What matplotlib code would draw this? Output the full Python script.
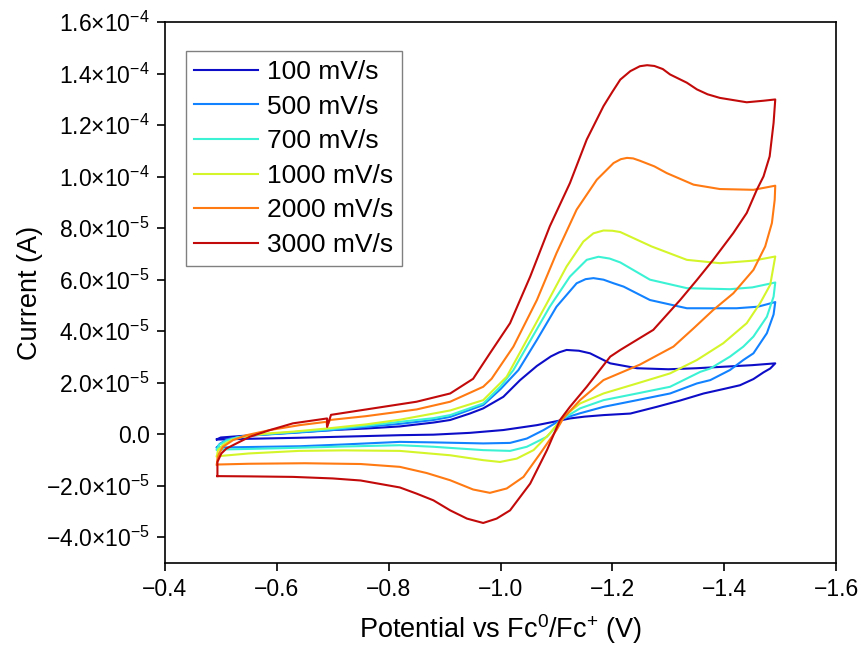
import numpy as np
import matplotlib
matplotlib.use("Agg")
import matplotlib.pyplot as plt

plt.rcParams['font.family'] = ['Liberation Sans', 'DejaVu Sans']
plt.rcParams['mathtext.fontset'] = 'custom'
plt.rcParams['mathtext.rm'] = 'Liberation Sans'
plt.rcParams['mathtext.it'] = 'Liberation Sans:italic'

# scan rates
labels = ['100 mV/s', '500 mV/s', '700 mV/s', '1000 mV/s', '2000 mV/s', '3000 mV/s']
colors = ['#0d0dc8', '#1282ff', '#3cf2d4', '#d4f52a', '#ff7a12', '#c20a0a']

# potentials in V, currents in 1e-5 A; upper branch left->right then return branch right->left
v100 = [-0.493, -0.50, -0.55, -0.60, -0.69, -0.76, -0.82, -0.88, -0.91, -0.945, -0.969, -1.005, -1.035, -1.065,
        -1.09, -1.105, -1.118, -1.14, -1.160, -1.196, -1.244, -1.30, -1.35, -1.40, -1.45, -1.491,
        -1.482, -1.470, -1.452, -1.428, -1.40, -1.363, -1.32, -1.279, -1.232, -1.184, -1.150, -1.124, -1.095,
        -1.065, -1.005, -0.945, -0.88, -0.82, -0.75, -0.641, -0.55, -0.493]
i100 = [-0.20, -0.13, -0.05, 0.02, 0.15, 0.22, 0.30, 0.45, 0.55, 0.80, 1.0, 1.45, 2.10, 2.65,
        3.02, 3.18, 3.27, 3.24, 3.14, 2.75, 2.56, 2.52, 2.56, 2.62, 2.68, 2.75,
        2.55, 2.40, 2.14, 1.90, 1.76, 1.58, 1.30, 1.06, 0.80, 0.74, 0.68, 0.61, 0.48,
        0.35, 0.16, 0.05, -0.02, -0.04, -0.08, -0.14, -0.18, -0.21]

v500 = [-0.493, -0.498, -0.51, -0.53, -0.57, -0.63, -0.69, -0.76, -0.82, -0.88, -0.91, -0.969, -1.00, -1.032,
        -1.065, -1.100, -1.136, -1.152, -1.166, -1.184, -1.202, -1.220, -1.267, -1.333, -1.422, -1.46, -1.491,
        -1.488, -1.476, -1.452, -1.434, -1.410, -1.375, -1.351, -1.303, -1.244, -1.184, -1.142, -1.112,
        -1.077, -1.047, -1.017, -0.969, -0.88, -0.82, -0.72, -0.641, -0.55, -0.493]
i500 = [-0.52, -0.38, -0.22, -0.12, -0.03, 0.05, 0.14, 0.28, 0.40, 0.55, 0.67, 1.13, 1.75, 2.49,
        3.66, 4.95, 5.86, 6.02, 6.06, 6.00, 5.86, 5.73, 5.21, 4.89, 4.89, 4.95, 5.13,
        4.65, 3.92, 3.14, 2.88, 2.49, 2.10, 1.97, 1.58, 1.32, 1.06, 0.81, 0.61,
        0.16, -0.17, -0.34, -0.36, -0.32, -0.30, -0.40, -0.47, -0.50, -0.52]

v700 = [-0.493, -0.497, -0.51, -0.53, -0.56, -0.63, -0.69, -0.76, -0.82, -0.88, -0.91, -0.969, -1.00, -1.023,
        -1.047, -1.088, -1.124, -1.154, -1.175, -1.195, -1.214, -1.267, -1.333, -1.410, -1.45, -1.491,
        -1.488, -1.476, -1.452, -1.434, -1.410, -1.375, -1.357, -1.303, -1.244, -1.184, -1.142, -1.112,
        -1.083, -1.047, -1.017, -0.969, -0.88, -0.82, -0.72, -0.60, -0.493]
i700 = [-0.60, -0.42, -0.25, -0.12, -0.03, 0.08, 0.18, 0.33, 0.48, 0.62, 0.74, 1.19, 1.85, 2.49,
        3.40, 4.95, 6.12, 6.77, 6.89, 6.82, 6.67, 6.00, 5.67, 5.63, 5.70, 5.89,
        5.34, 4.56, 3.79, 3.40, 3.01, 2.55, 2.42, 1.84, 1.58, 1.32, 1.00, 0.61,
        -0.10, -0.49, -0.65, -0.62, -0.49, -0.43, -0.48, -0.55, -0.60]

v1000 = [-0.493, -0.495, -0.505, -0.52, -0.54, -0.58, -0.63, -0.69, -0.76, -0.82, -0.91, -0.969, -1.011,
         -1.047, -1.083, -1.118, -1.148, -1.166, -1.184, -1.200, -1.214, -1.27, -1.333, -1.392, -1.452, -1.491,
         -1.482, -1.464, -1.440, -1.398, -1.351, -1.303, -1.244, -1.184, -1.142, -1.112, -1.088, -1.059,
         -1.029, -0.999, -0.969, -0.91, -0.82, -0.72, -0.64, -0.55, -0.493]
i1000 = [-0.86, -0.62, -0.40, -0.22, -0.10, 0.02, 0.10, 0.22, 0.38, 0.56, 0.92, 1.32, 2.23,
         3.66, 5.09, 6.51, 7.48, 7.80, 7.91, 7.90, 7.85, 7.29, 6.77, 6.64, 6.74, 6.90,
         5.80, 5.09, 4.31, 3.53, 2.88, 2.36, 1.97, 1.58, 1.19, 0.67, 0.03, -0.62,
         -0.95, -1.08, -1.01, -0.82, -0.65, -0.63, -0.65, -0.75, -0.86]

v2000 = [-0.493, -0.494, -0.497, -0.504, -0.522, -0.546, -0.588, -0.641, -0.689, -0.690, -0.695, -0.760,
         -0.850, -0.910, -0.969, -0.984, -1.023, -1.065, -1.100, -1.136, -1.172, -1.202, -1.215, -1.226, -1.237,
         -1.249, -1.275, -1.297, -1.345, -1.392, -1.452, -1.491,
         -1.490, -1.485, -1.473, -1.452, -1.416, -1.380, -1.345, -1.309, -1.249, -1.184, -1.142, -1.112,
         -1.100, -1.071, -1.041, -1.011, -0.981, -0.951, -0.910, -0.868, -0.820, -0.75, -0.65, -0.55, -0.493]
i2000 = [-1.18, -0.95, -0.75, -0.49, -0.23, -0.04, 0.16, 0.35, 0.48, 0.30, 0.55, 0.70,
         0.96, 1.26, 1.84, 2.15, 3.40, 5.21, 7.03, 8.72, 9.88, 10.53, 10.68, 10.73, 10.71,
         10.62, 10.40, 10.14, 9.69, 9.52, 9.49, 9.65,
         9.10, 8.20, 7.29, 6.38, 5.47, 4.82, 4.11, 3.40, 2.70, 2.10, 1.32, 0.61,
         0.16, -0.75, -1.66, -2.11, -2.28, -2.15, -1.79, -1.51, -1.27, -1.16, -1.13, -1.15, -1.18]

v3000 = [-0.494, -0.494, -0.501, -0.510, -0.528, -0.552, -0.588, -0.629, -0.690, -0.690, -0.697, -0.760,
         -0.850, -0.910, -0.951, -0.981, -1.017, -1.053, -1.088, -1.124, -1.154, -1.184, -1.200, -1.214, -1.232,
         -1.249, -1.262, -1.275, -1.29, -1.303, -1.333, -1.351, -1.37, -1.392, -1.440, -1.470, -1.491,
         -1.488, -1.481, -1.470, -1.458, -1.440, -1.416, -1.380, -1.351, -1.321, -1.273, -1.214, -1.196,
         -1.154, -1.124, -1.106, -1.083, -1.053, -1.017, -0.993, -0.969, -0.940, -0.910, -0.880, -0.850,
         -0.820, -0.75, -0.70, -0.629, -0.55, -0.494]
i3000 = [-1.63, -1.08, -0.75, -0.56, -0.36, -0.10, 0.16, 0.42, 0.61, 0.28, 0.75, 0.96,
         1.26, 1.58, 2.15, 3.14, 4.31, 6.12, 8.07, 9.75, 11.44, 12.74, 13.30, 13.77, 14.10,
         14.29, 14.33, 14.30, 14.18, 13.97, 13.65, 13.39, 13.20, 13.06, 12.89, 12.95, 13.00,
         12.09, 10.79, 10.01, 9.49, 8.59, 7.81, 6.77, 5.99, 5.21, 4.05, 3.27, 3.01,
         1.84, 1.06, 0.54, -0.62, -1.92, -2.96, -3.28, -3.45, -3.28, -2.96, -2.57, -2.31,
         -2.07, -1.80, -1.72, -1.66, -1.64, -1.63]

potentials = [v100, v500, v700, v1000, v2000, v3000]
currents = [i100, i500, i700, i1000, i2000, i3000]

fig = plt.figure(figsize=(8.63, 6.53), dpi=100)
ax = fig.add_axes([0.191, 0.138, 0.778, 0.828])

for v, i, c, lab in zip(potentials, currents, colors, labels):
    ax.plot(np.array(v), np.array(i) * 1e-5, color=c, lw=1.5, label=lab)

ax.set_xlim(-0.4, -1.6)
ax.set_ylim(-5e-5, 1.6e-4)
ax.set_xticks(np.arange(-0.4, -1.61, -0.2))
ax.set_xticklabels(['\u22120.4', '\u22120.6', '\u22120.8', '\u22121.0', '\u22121.2', '\u22121.4', '\u22121.6'])

yt = np.arange(-4, 17, 2) * 1e-5
ylabs = []
for y in yt:
    if abs(y) < 1e-12:
        ylabs.append('0.0')
    else:
        e = int(np.floor(np.log10(abs(y))))
        m = y / 10 ** e
        ylabs.append(r'$\mathregular{%s{\times}10^{%d}}$' % (('%.1f' % m).replace('-', '\u2212'), e))
ax.set_yticks(yt)
ax.set_yticklabels(ylabs)

ax.tick_params(direction='out', length=6, width=1.2, labelsize=16.5, pad=5, top=False, right=False)
for s in ax.spines.values():
    s.set_linewidth(1.2)

ax.set_xlabel(r'Potential vs Fc$^{0}$/Fc$^{+}$ (V)', fontsize=19.5, labelpad=8)
ax.set_ylabel('Current (A)', fontsize=19.5, labelpad=2)

leg = ax.legend(loc='upper left', bbox_to_anchor=(0.031, 0.946), borderaxespad=0, fontsize=19,
                handlelength=2.4, labelspacing=0.40, handletextpad=0.34, borderpad=0.33,
                fancybox=False, framealpha=1)
leg.get_frame().set_edgecolor('#808080')
leg.get_frame().set_linewidth(1.0)

fig.savefig('out.png', dpi=100)
